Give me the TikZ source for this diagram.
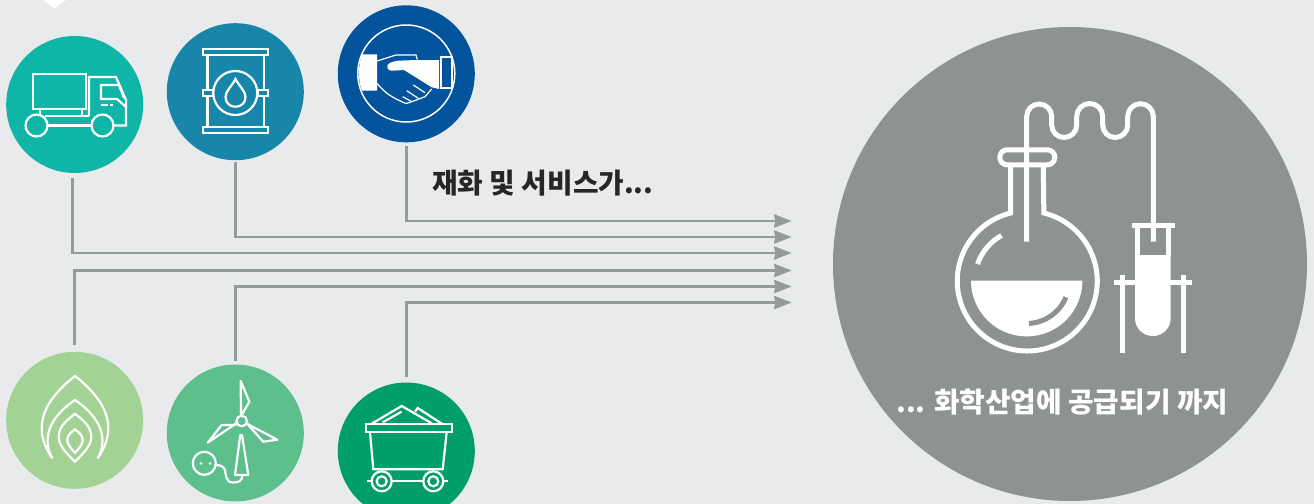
\documentclass[tikz,border=0pt]{standalone}
\usepackage{fontspec}
\newfontfamily\krfont{Noto Sans CJK KR}
\usetikzlibrary{arrows.meta, calc}
\definecolor{bgcol}{HTML}{E9EAEC}
\definecolor{flowcol}{HTML}{969A99}
\definecolor{chemcol}{HTML}{8E9392}
\definecolor{truckcol}{HTML}{0FB5A6}
\definecolor{barrelcol}{HTML}{1786A9}
\definecolor{handcol}{HTML}{03539D}
\definecolor{gascol}{HTML}{A3D295}
\definecolor{windcol}{HTML}{5CBF8C}
\definecolor{cartcol}{HTML}{009E6B}

\begin{document}
\begin{tikzpicture}[x=0.5pt, y=-0.5pt,
  disc/.style={circle, inner sep=0pt, minimum size=68.5pt},
  flow/.style={draw=flowcol, line width=1.25pt,
    -{Stealth[length=8.8pt, width=6.6pt, inset=0.6pt]}},
  icon/.style={draw=white, line width=1.1pt, line join=miter},
  heavy/.style={draw=white, line width=2.5pt},
  label/.style={font=\krfont\bfseries\fontsize{13.9}{16}\selectfont, inner sep=0pt}]
  \useasboundingbox (0,0) rectangle (1314,504);
  \fill[bgcol] (0,0) rectangle (1314,504);
  \fill[white] (43,0) -- (66,0) -- (54.5,8.5) -- cycle;

  \node[disc, fill=truckcol] (truck) at (74.7,104.5) {};
  \node[disc, fill=barrelcol] (barrel) at (235.3,91.7) {};
  \node[disc, fill=handcol] (hand) at (406.3,73.8) {};
  \node[disc, fill=gascol] (gas) at (74.7,420.3) {};
  \node[disc, fill=windcol] (wind) at (235.3,433) {};
  \node[disc, fill=cartcol] (cart) at (406.3,451) {};
  \node[circle, inner sep=0pt, minimum size=237pt, fill=chemcol] (chem) at (1070,264) {};

  \coordinate (in1) at (791.7,221);
  \coordinate (in2) at (791.7,237);
  \coordinate (in3) at (791.7,253);
  \coordinate (in4) at (791.7,270.5);
  \coordinate (in5) at (791.7,286.5);
  \coordinate (in6) at (791.7,302.5);

  \draw[flow, shorten <=1.65pt] (hand.south) |- (in1);
  \draw[flow, shorten <=0.85pt] (barrel.south) |- (in2);
  \draw[flow, shorten <=2.5pt] ([xshift=-1pt]truck.south) |- (in3);
  \draw[flow, shorten <=3.4pt] (gas.north) |- (in4);
  \draw[flow, shorten <=1.4pt] (wind.north) |- (in5);
  \draw[flow, shorten <=2.6pt] (cart.north) |- (in6);

  \node[label, anchor=west, text=black!85] (supply) at (432,183) {재화 및 서비스가...};
  \node[label, anchor=west, text=white] (chemtext) at (896,402) {... 화학산업에 공급되기 까지};

  % truck
  \draw[icon] (33,74) rectangle (86,109);
  \draw[icon] (40,109) -- (40,116) (82,109) -- (82,116);
  \draw[icon] (45,116) -- (89,116) (47,125.5) -- (92,125.5);
  \draw[icon] (89,116) -- (89,77) -- (116,77) -- (126,100) -- (126,125.5) -- (113.5,125.5);
  \draw[icon] (126,107) -- (117,99) -- (101,99) -- (101,85) -- (119,85) -- (124,98);
  \draw[icon] (101,105) -- (108,105) (110,105) -- (113,105);
  \draw[icon] (36.5,125.5) circle (11);
  \draw[icon] (102.5,125.5) circle (11);

  % barrel
  \draw[icon] (203,49) rectangle (268,55);
  \draw[icon] (203,127) rectangle (268,133);
  \draw[icon] (207.5,55) -- (207.5,90) (207.5,96) -- (207.5,127);
  \draw[icon] (264,55) -- (264,90) (264,96) -- (264,127);
  \draw[icon] (203,90) rectangle (213,96);
  \draw[icon] (258,90) rectangle (268,96);
  \draw[icon] (235.3,93) circle (22);
  \draw[icon] (235.5,79) .. controls (232,86) and (225.5,91) .. (225.5,97)
    .. controls (225.5,110) and (245.5,110) .. (245.5,97)
    .. controls (245.5,91) and (239,86) .. (235.5,79) -- cycle;

  % handshake
  \draw[white, line width=0.75pt] (406.3,73.5) circle (48.5);
  \fill[white] (377,54.3) -- (362,54.3) .. controls (358,66) and (358,81) .. (362,90.7) -- (377,90.7) -- cycle;
  \draw[icon] (441,57) rectangle (452,88);
  \fill[white] (439,60) -- (416.7,60) -- (398,60.7) .. controls (390,62) and (387,64) .. (387.3,66.7)
    .. controls (387.5,70) and (390,70.7) .. (392,70.7) -- (404,70) -- (431.7,87.3) -- (439,89) -- cycle;
  \draw[white, line width=0.6pt] (377,61) -- (396,55) -- (416,55) -- (417.3,59.5);
  \draw[white, line width=0.6pt] (377,83.5) .. controls (386,94) and (392,97) .. (401.7,101.7)
    .. controls (406,104.5) and (409,103) .. (411.7,101.7) -- (419,99) -- (425,96.7) -- (431.7,89);
  \draw[white, line width=0.6pt] (413.3,85) -- (425,92.7) (406.7,90.7) -- (418.3,98.3) (402.7,96.7) -- (411.7,101.7);

  % flame
  \draw[icon] (52.3,458.3) .. controls (34,432) and (38,405) .. (75,376)
    .. controls (112,405) and (116,432) .. (97.7,458.3);
  \draw[icon] (52.3,458.3) .. controls (42,440) and (48,418) .. (75,400)
    .. controls (102,418) and (108,440) .. (97.7,458.3);
  \draw[icon] (75,414) .. controls (62,423) and (58.7,430) .. (58.7,437)
    .. controls (58.7,445) and (66,453) .. (75,461.7)
    .. controls (84,453) and (91.3,445) .. (91.3,437)
    .. controls (91.3,430) and (88,423) .. (75,414) -- cycle;
  \draw[icon] (75,429.3) .. controls (70,433) and (67.3,436) .. (67.3,440)
    .. controls (67.3,444) and (71,449) .. (75,452.7)
    .. controls (79,449) and (82.7,444) .. (82.7,440)
    .. controls (82.7,436) and (80,433) .. (75,429.3) -- cycle;

  % wind turbine
  \draw[icon] (241.7,421) circle (5.3);
  \draw[icon, line join=round] (241,415.7) -- (240.7,381) -- (249.3,401.7) -- (242.3,414);
  \draw[icon, line join=round] (236.8,423) -- (207.7,442.7) -- (221.7,425) -- (236,425);
  \draw[icon, line join=round] (246.5,423.5) -- (277.3,439.7) -- (263.3,441.7) -- (248.3,425);
  \draw[icon, line join=round] (240.3,435) -- (242,435) -- (248.3,475) -- (235,475) -- cycle;
  \draw[icon] (204.3,463.3) circle (11.5);
  \fill[white] (201,463.3) circle (1.5) (210,463.3) circle (1.5);
  \draw[icon] (215.8,465) .. controls (219,465) and (224,466) .. (225,470)
    .. controls (226,476) and (226,482.5) .. (233,482.5)
    .. controls (239,482.5) and (242.3,481) .. (242.3,475);

  % mine cart
  \draw[icon] (366,424.3) rectangle (451.7,432);
  \draw[icon] (370,432) -- (373.3,469.3) -- (442.7,469.3) -- (446.7,432);
  \draw[icon] (367.3,481) -- (371.7,481) (391.7,481) -- (423.3,481) (443.3,481) -- (448.3,481);
  \draw[icon] (381.7,481.3) circle (10) (381.7,481.3) circle (5);
  \draw[icon] (433.3,481.3) circle (10) (433.3,481.3) circle (5);
  \draw[icon] (370.7,424.3) -- (401.7,406) -- (431.7,423.3);
  \draw[icon] (415,411.7) -- (417.7,408) -- (442.7,424.3);
  \draw[icon] (382.7,422.3) -- (401.7,411.7);

  % flask
  \draw[heavy, rounded corners=3.7pt] (999.8,149.8) rectangle (1054.8,164.8);
  \draw[heavy] (1010.7,164.8) -- (1010.7,213)
    arc[start angle=256.3, end angle=-76.3, radius=70] -- (1043.3,164.8);
  \fill[white] (971,280.7) -- (1082.4,280.7) arc[start angle=0, end angle=180, radius=55.7] -- cycle;
  \draw[draw=chemcol, line width=2.5pt] (1026.7,281) ++(22.5:42.5) arc[start angle=22.5, end angle=87, radius=42.5];
  \draw[heavy] (1026.7,281) ++(199:52) arc[start angle=199, end angle=241, radius=52];

  % tube over the flask
  \draw[heavy] (1026.7,241.7) -- (1026.7,116.5)
    arc[start angle=180, end angle=360, radius=12.5] -- (1051.7,125)
    arc[start angle=180, end angle=0, radius=12.5] -- (1076.7,116.5)
    arc[start angle=180, end angle=360, radius=13] -- (1102.7,125)
    arc[start angle=180, end angle=0, radius=12.5] -- (1127.7,116.5)
    arc[start angle=180, end angle=360, radius=12.8] -- (1153.3,241.7);

  % test tube and stand
  \draw[heavy] (1114,282.7) -- (1191.7,282.7);
  \draw[heavy] (1122,275) -- (1122,353.3);
  \draw[heavy] (1183.3,275) -- (1183.3,353.3);
  \draw[heavy] (1131.7,225.7) -- (1175,225.7);
  \draw[heavy] (1137.7,225.7) -- (1137.7,256) (1168.3,225.7) -- (1168.3,256);
  \fill[white] (1135,255) -- (1135,318.2) arc[start angle=180, end angle=0, radius=17.85] -- (1170.7,255) -- cycle;
\end{tikzpicture}
\end{document}
